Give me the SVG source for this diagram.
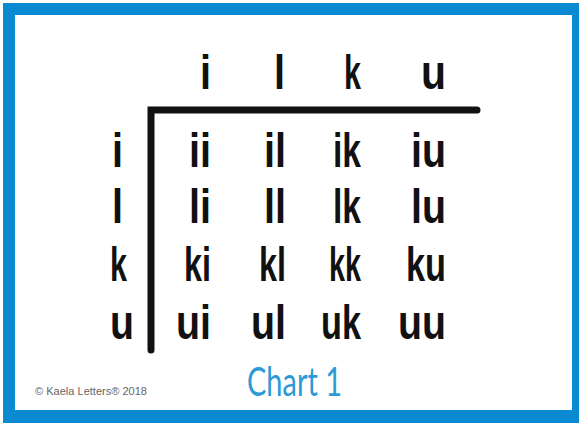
<svg xmlns="http://www.w3.org/2000/svg" width="579" height="423" viewBox="0 0 579 423">
<style>
.g{font-family:"Liberation Sans",Arial,sans-serif;font-weight:bold;font-size:48px;fill:#111;}
.h{text-anchor:end;}
.c{text-anchor:end;}
.r{text-anchor:start;}
</style>
<rect x="3" y="3" width="576" height="420" fill="#0a8bd1"/>
<rect x="15" y="15" width="557" height="395" fill="#ffffff"/>
<g id="connectors">
<path d="M151,350 L151,110 L477,110" fill="none" stroke="#111" stroke-width="7" stroke-linecap="round" stroke-linejoin="miter"/>
</g>
<g id="header" class="g h">
<text x="211" y="89" textLength="11" lengthAdjust="spacingAndGlyphs">i</text>
<text x="285" y="89" textLength="11" lengthAdjust="spacingAndGlyphs">l</text>
<text x="361" y="89" textLength="17" lengthAdjust="spacingAndGlyphs">k</text>
<text x="446" y="89" textLength="25" lengthAdjust="spacingAndGlyphs">u</text>
</g>
<g id="rowlabels" class="g r">
<text x="112" y="167" textLength="11" lengthAdjust="spacingAndGlyphs">i</text>
<text x="112" y="223" textLength="11" lengthAdjust="spacingAndGlyphs">l</text>
<text x="110" y="281" textLength="17" lengthAdjust="spacingAndGlyphs">k</text>
<text x="110" y="339" textLength="24" lengthAdjust="spacingAndGlyphs">u</text>
</g>
<g id="row-i" class="g c">
<text x="211" y="167" textLength="22" lengthAdjust="spacingAndGlyphs">ii</text>
<text x="286" y="167" textLength="22" lengthAdjust="spacingAndGlyphs">il</text>
<text x="361" y="167" textLength="28" lengthAdjust="spacingAndGlyphs">ik</text>
<text x="446" y="167" textLength="35" lengthAdjust="spacingAndGlyphs">iu</text>
</g>
<g id="row-l" class="g c">
<text x="211" y="223" textLength="22" lengthAdjust="spacingAndGlyphs">li</text>
<text x="286" y="223" textLength="22" lengthAdjust="spacingAndGlyphs">ll</text>
<text x="361" y="223" textLength="28" lengthAdjust="spacingAndGlyphs">lk</text>
<text x="446" y="223" textLength="35" lengthAdjust="spacingAndGlyphs">lu</text>
</g>
<g id="row-k" class="g c">
<text x="211" y="281" textLength="27" lengthAdjust="spacingAndGlyphs">ki</text>
<text x="286" y="281" textLength="27" lengthAdjust="spacingAndGlyphs">kl</text>
<text x="361" y="281" textLength="32" lengthAdjust="spacingAndGlyphs">kk</text>
<text x="446" y="281" textLength="40" lengthAdjust="spacingAndGlyphs">ku</text>
</g>
<g id="row-u" class="g c">
<text x="211" y="339" textLength="35" lengthAdjust="spacingAndGlyphs">ui</text>
<text x="286" y="339" textLength="35" lengthAdjust="spacingAndGlyphs">ul</text>
<text x="361" y="339" textLength="40" lengthAdjust="spacingAndGlyphs">uk</text>
<text x="446" y="339" textLength="48" lengthAdjust="spacingAndGlyphs">uu</text>
</g>
<g id="title">
<text x="247" y="396" font-family="Lato,'Open Sans',sans-serif" font-size="40" fill="#2b9ad6" textLength="95" lengthAdjust="spacingAndGlyphs">Chart 1</text>
</g>
<g id="copyright">
<text x="35" y="395" font-family="'Liberation Sans',Arial,sans-serif" font-size="11" fill="#666" textLength="112" lengthAdjust="spacingAndGlyphs">© Kaela Letters® 2018</text>
</g>
</svg>
